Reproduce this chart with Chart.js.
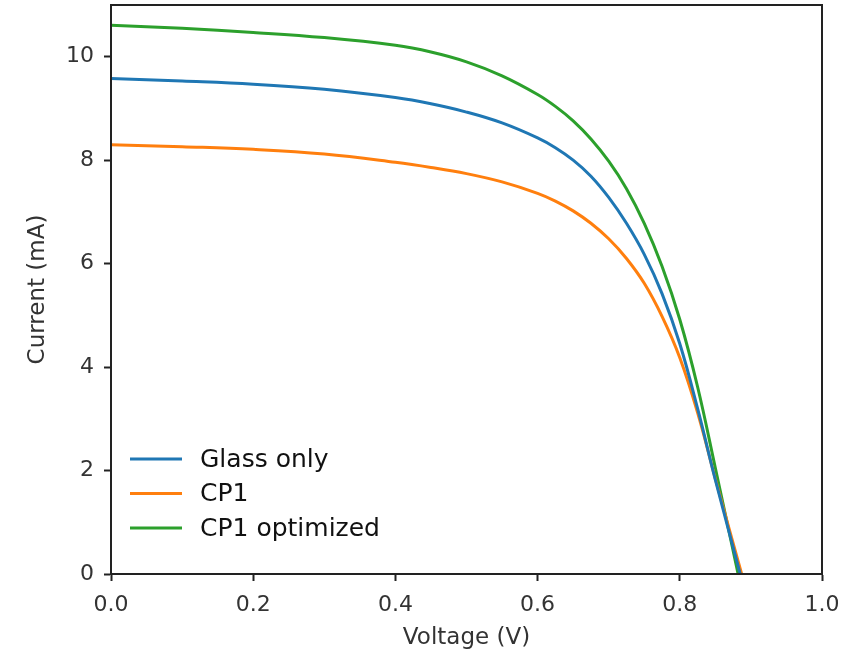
<!DOCTYPE html>
<html>
<head>
<meta charset="utf-8">
<script src="https://cdn.jsdelivr.net/npm/chart.js@4/dist/chart.umd.min.js"></script>
<style>
  html, body { margin: 0; padding: 0; background: #fff; }
  #wrap { width: 846px; height: 650px; position: relative; }
</style>
</head>
<body>
<div id="wrap"><canvas id="ivChart"></canvas></div>
<script>
// voltage sample points (V), shared by all three curves
const voltage = [0, 0.1, 0.2, 0.3, 0.4, 0.45, 0.5, 0.55, 0.6, 0.625, 0.65, 0.675, 0.7, 0.725, 0.75, 0.775, 0.8, 0.825, 0.85];

// current (mA)
const glassOnly = [9.58, 9.53, 9.47, 9.37, 9.21, 9.09, 8.93, 8.72, 8.43, 8.24, 8.00, 7.69, 7.28, 6.78, 6.18, 5.42, 4.45, 3.20, 1.82];
const cp1 = [8.30, 8.26, 8.21, 8.12, 7.96, 7.86, 7.74, 7.58, 7.36, 7.21, 7.02, 6.78, 6.48, 6.10, 5.62, 4.98, 4.18, 3.12, 1.84];
const cp1Optimized = [10.61, 10.55, 10.47, 10.37, 10.22, 10.09, 9.90, 9.63, 9.27, 9.04, 8.76, 8.41, 7.98, 7.45, 6.78, 5.95, 4.92, 3.62, 2.05];

// open circuit voltage of each curve (current = 0)
const seriesLabels = ['Glass only', 'CP1', 'CP1 optimized'];
const openCircuitV = [0.885, 0.887, 0.882];
const seriesColors = ['#1f77b4', '#ff7f0e', '#2ca02c'];

const xTicks = [0, 0.2, 0.4, 0.6, 0.8, 1.0];
const yTicks = [0, 2, 4, 6, 8, 10];

const TEXT_COLOR = '#333333';
const AXIS_COLOR = '#222222';

function toPoints(values, voc) {
    const pts = voltage.map((v, i) => ({ x: v, y: values[i] }));
    pts.push({ x: voc, y: 0 });
    return pts;
}

const seriesValues = [glassOnly, cp1, cp1Optimized];
const datasets = seriesValues.map((vals, i) => ({
    label: seriesLabels[i],
    data: toPoints(vals, openCircuitV[i]),
    borderColor: seriesColors[i],
    backgroundColor: seriesColors[i],
    borderWidth: 3,
    pointRadius: 0,
    fill: false,
    tension: 0.4
}));

// 축 테두리(네 면) + 범례를 직접 그림
const framePlugin = {
    id: 'frame',
    afterDraw(chart) {
        const { ctx, chartArea: a } = chart;
        ctx.save();
        ctx.strokeStyle = AXIS_COLOR;
        ctx.lineWidth = 2;
        ctx.strokeRect(a.left, a.top, a.right - a.left, a.bottom - a.top);

        // legend
        const rowY = [459, 493.5, 528];
        ctx.font = '25px "DejaVu Sans"';
        ctx.textBaseline = 'middle';
        ctx.textAlign = 'left';
        chart.data.datasets.forEach((ds, i) => {
            ctx.strokeStyle = ds.borderColor;
            ctx.lineWidth = 3;
            ctx.beginPath();
            ctx.moveTo(130, rowY[i]);
            ctx.lineTo(182, rowY[i]);
            ctx.stroke();
            ctx.fillStyle = '#111111';
            ctx.fillText(ds.label, 200, rowY[i] + 1);
        });
        ctx.restore();
    }
};

new Chart(document.getElementById('ivChart'), {
    type: 'line',
    data: { datasets },
    options: {
        responsive: true,
        maintainAspectRatio: false,
        animation: false,
        layout: { padding: { top: 5, right: 24, bottom: 0, left: 0 } },
        plugins: {
            legend: { display: false },
            tooltip: { enabled: false }
        },
        scales: {
            x: {
                type: 'linear',
                min: 0,
                max: 1,
                afterBuildTicks: (axis) => { axis.ticks = xTicks.map(v => ({ value: v })); },
                afterFit: (axis) => { axis.height = 76; axis.paddingLeft = 0; axis.paddingRight = 0; },
                grid: { drawOnChartArea: false, drawTicks: true, tickLength: 7, tickWidth: 2, color: AXIS_COLOR },
                border: { display: true, color: AXIS_COLOR, width: 2 },
                ticks: {
                    color: TEXT_COLOR,
                    font: { family: 'DejaVu Sans', size: 22 },
                    padding: 11,
                    maxRotation: 0,
                    callback: (v) => Number(v).toFixed(1)
                },
                title: {
                    display: true,
                    text: 'Voltage (V)',
                    color: TEXT_COLOR,
                    font: { family: 'DejaVu Sans', size: 23 },
                    padding: { top: 0, bottom: -2 }
                }
            },
            y: {
                type: 'linear',
                min: 0,
                max: 11,
                afterBuildTicks: (axis) => { axis.ticks = yTicks.map(v => ({ value: v })); },
                afterFit: (axis) => { axis.width = 111; axis.paddingTop = 0; axis.paddingBottom = 0; },
                grid: { drawOnChartArea: false, drawTicks: true, tickLength: 7, tickWidth: 2, color: AXIS_COLOR },
                border: { display: true, color: AXIS_COLOR, width: 2 },
                ticks: {
                    color: TEXT_COLOR,
                    font: { family: 'DejaVu Sans', size: 22 },
                    padding: 10
                },
                title: {
                    display: true,
                    text: 'Current (mA)',
                    color: TEXT_COLOR,
                    font: { family: 'DejaVu Sans', size: 23 },
                    padding: { top: 24, bottom: 0 }
                }
            }
        }
    },
    plugins: [framePlugin]
});
</script>
</body>
</html>
